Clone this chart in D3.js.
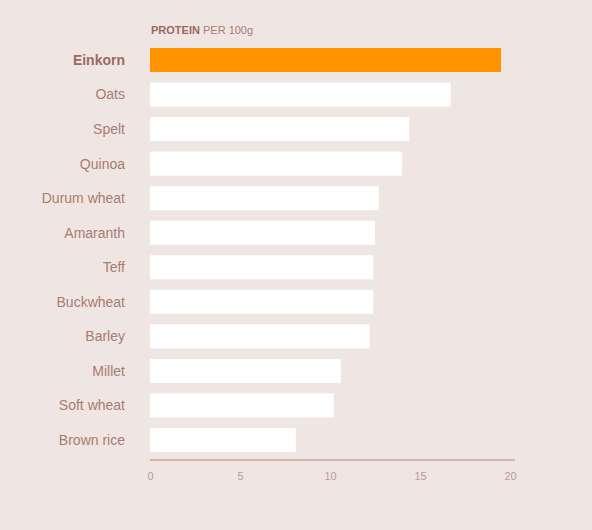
<!DOCTYPE html>
<html>
<head>
<meta charset="utf-8">
<script src="https://cdn.jsdelivr.net/npm/d3@7"></script>
<style>
  html, body { margin: 0; padding: 0; background: #efe6e4; }
  svg { display: block; font-family: "Liberation Sans", Arial, sans-serif; }
</style>
</head>
<body>
<div id="chart"></div>
<script>
// grains, sorted by protein content (g per 100g)
const grains = ["Einkorn", "Oats", "Spelt", "Quinoa", "Durum wheat", "Amaranth",
  "Teff", "Buckwheat", "Barley", "Millet", "Soft wheat", "Brown rice"];
const protein = [19.5, 16.7, 14.4, 14.0, 12.7, 12.5, 12.4, 12.4, 12.2, 10.6, 10.2, 8.1];
const xTicks = [0, 5, 10, 15, 20];
const highlight = "Einkorn";

const data = grains.map((g, i) => ({ grain: g, value: protein[i] }));

const W = 592, H = 530;
const margin = { top: 48, right: 82, bottom: 78, left: 150 };

const svg = d3.select("#chart")
  .append("svg")
  .attr("width", W)
  .attr("height", H);

const x = d3.scaleLinear()
  .domain([0, 20])
  .range([margin.left, 510]);

const y = d3.scaleBand()
  .domain(grains)
  .range([margin.top, H - margin.bottom])
  .paddingInner(0.305)
  .paddingOuter(0);

// bars
svg.append("g")
  .selectAll("rect")
  .data(data)
  .join("rect")
  .attr("x", x(0))
  .attr("y", d => y(d.grain))
  .attr("width", d => x(d.value) - x(0))
  .attr("height", y.bandwidth())
  .attr("fill", d => d.grain === highlight ? "#ff9300" : "#ffffff");

// category labels
svg.append("g")
  .selectAll("text")
  .data(data)
  .join("text")
  .attr("x", 125)
  .attr("y", d => y(d.grain) + y.bandwidth() / 2)
  .attr("dy", "0.35em")
  .attr("text-anchor", "end")
  .style("font-size", "14px")
  .style("font-weight", d => d.grain === highlight ? "bold" : "normal")
  .style("fill", d => d.grain === highlight ? "#9a6a5e" : "#a87c70")
  .text(d => d.grain);

// x axis
const axisY = 460;
const xAxis = svg.append("g")
  .attr("transform", `translate(0,${axisY})`)
  .call(d3.axisBottom(x).tickValues(xTicks).tickSize(0).tickPadding(12));

xAxis.select(".domain").remove();
xAxis.append("line")
  .attr("x1", x(0))
  .attr("x2", 515)
  .attr("stroke", "#b4857b")
  .attr("stroke-width", 1.2);

xAxis.selectAll(".tick text")
  .style("font-size", "11px")
  .style("fill", "#bc9a92")
  .style("font-family", "\"Liberation Sans\", Arial, sans-serif");

// title
const title = svg.append("text")
  .attr("x", 151)
  .attr("y", 34)
  .style("font-size", "11px")
  .style("fill", "#9a6a5e");
title.append("tspan").style("font-weight", "bold").text("PROTEIN");
title.append("tspan").style("fill", "#a87c70").text(" PER 100g");
</script>
</body>
</html>
